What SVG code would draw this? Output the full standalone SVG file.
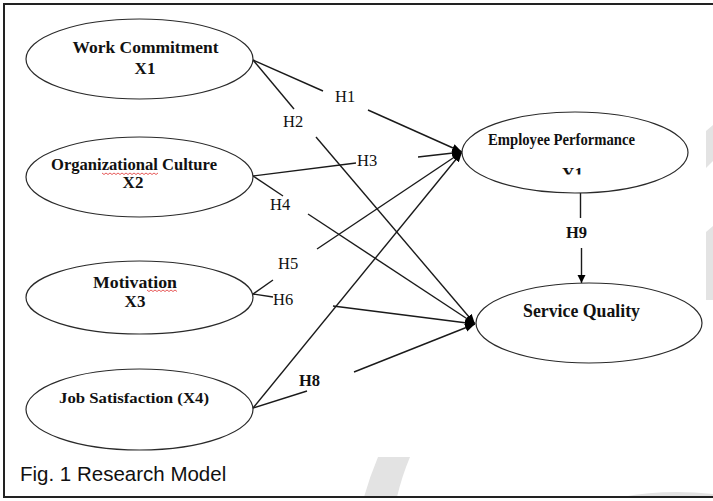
<svg xmlns="http://www.w3.org/2000/svg" width="713" height="501" viewBox="0 0 713 501">
<style>
.node ellipse{fill:#fff;stroke:#2a2a2a;stroke-width:1.2}
.t{font-family:"Liberation Serif","Times New Roman",serif;font-weight:bold;fill:#111;text-anchor:middle}
.h{font-family:"Liberation Serif","Times New Roman",serif;font-size:16.5px;fill:#111}
.hb{font-family:"Liberation Serif","Times New Roman",serif;font-size:16.5px;font-weight:bold;fill:#111}
#connectors line{stroke:#1a1a1a;stroke-width:1.4;fill:none}
.wm{fill:#e3e3e3}
.sq{fill:none;stroke:#e03030;stroke-width:0.8}
</style>
<defs>
<marker id="ah" markerUnits="userSpaceOnUse" markerWidth="11" markerHeight="9" refX="10" refY="4.5" orient="auto">
<path d="M0,0.5 L10,4.5 L0,8.5 z" fill="#000"/>
</marker>
<marker id="ah2" markerUnits="userSpaceOnUse" markerWidth="9" markerHeight="9" refX="8" refY="4" orient="auto">
<path d="M0,0 L8,4 L0,8 z" fill="#000"/>
</marker>
<clipPath id="yclip"><rect x="540" y="160" width="70" height="14.5"/></clipPath>
</defs>
<rect x="0" y="0" width="713" height="501" fill="#fff"/>
<g id="watermark">
<path class="wm" d="M706,131 L713,125 L713,161 L706,168 z"/>
<path class="wm" d="M706,232 L713,226 L713,300 L706,300 z"/>
<path class="wm" d="M378,457 L410,457 Q402,476 397,497 L364,497 Q370,476 378,457 z"/>
<path class="wm" d="M622,497 Q665,489 713,494 L713,497 z"/>
</g>
<path d="M713,4 L4,4 L4,497 L713,497" fill="none" stroke="#222" stroke-width="2"/>
<g id="connectors">
<line x1="253" y1="60" x2="323" y2="91"/>
<line x1="368" y1="110" x2="462" y2="152" marker-end="url(#ah)"/>
<line x1="253" y1="60" x2="294" y2="109"/>
<line x1="316" y1="137" x2="475" y2="324" marker-end="url(#ah)"/>
<line x1="253" y1="176" x2="356" y2="163"/>
<line x1="418" y1="157" x2="462" y2="152" marker-end="url(#ah)"/>
<line x1="253" y1="176" x2="283" y2="196"/>
<line x1="308" y1="214" x2="475" y2="324" marker-end="url(#ah)"/>
<line x1="253" y1="294" x2="273" y2="280"/>
<line x1="317" y1="249" x2="462" y2="152" marker-end="url(#ah)"/>
<line x1="253" y1="294" x2="273" y2="297"/>
<line x1="333" y1="306" x2="475" y2="324" marker-end="url(#ah)"/>
<line x1="253" y1="408" x2="462" y2="152" marker-end="url(#ah)"/>
<line x1="253" y1="408" x2="307" y2="391"/>
<line x1="354" y1="372" x2="475" y2="324" marker-end="url(#ah)"/>
<line x1="580.5" y1="193" x2="580.5" y2="218"/>
<line x1="581.5" y1="248" x2="581.5" y2="283" marker-end="url(#ah2)"/>
</g>
<g id="labels">
<text class="h" x="335" y="102">H1</text>
<text class="h" x="283" y="127">H2</text>
<text class="h" x="357" y="166">H3</text>
<text class="h" x="270" y="210">H4</text>
<text class="h" x="278" y="269">H5</text>
<text class="h" x="273" y="305">H6</text>
<text class="hb" x="299" y="386">H8</text>
<text class="hb" x="566" y="238">H9</text>
</g>
<g id="n-work" class="node">
<ellipse cx="139.5" cy="59" rx="113.5" ry="40"/>
<text class="t" x="145.5" y="53" font-size="17" textLength="146" lengthAdjust="spacingAndGlyphs">Work Commitment</text>
<text class="t" x="145" y="74" font-size="17">X1</text>
</g>
<g id="n-org" class="node">
<ellipse cx="139.5" cy="177" rx="113.5" ry="40"/>
<text class="t" x="134" y="170" font-size="16.5" textLength="166" lengthAdjust="spacingAndGlyphs">Organizational Culture</text>
<path class="sq" d="M102,173 l2,1.5 l2,-1.5 l2,1.5 l2,-1.5 l2,1.5 l2,-1.5 l2,1.5 l2,-1.5 l2,1.5 l2,-1.5 l2,1.5 l2,-1.5 l2,1.5 l2,-1.5 l2,1.5 l2,-1.5 l2,1.5 l2,-1.5 l2,1.5 l2,-1.5 l2,1.5 l2,-1.5 l2,1.5 l2,-1.5 l2,1.5 l2,-1.5 l2,1.5 l2,-1.5"/>
<text class="t" x="133" y="188" font-size="17">X2</text>
</g>
<g id="n-mot" class="node">
<ellipse cx="139.5" cy="297.5" rx="113.5" ry="36.5"/>
<text class="t" x="135" y="288" font-size="17" textLength="84" lengthAdjust="spacingAndGlyphs">Motivation</text>
<path class="sq" d="M147,290 l2,1.5 l2,-1.5 l2,1.5 l2,-1.5 l2,1.5 l2,-1.5 l2,1.5 l2,-1.5 l2,1.5 l2,-1.5 l2,1.5 l2,-1.5 l2,1.5 l2,-1.5 l2,1.5"/>
<text class="t" x="135" y="307" font-size="17">X3</text>
</g>
<g id="n-job" class="node">
<ellipse cx="139.5" cy="409.5" rx="113.5" ry="40.5"/>
<text class="t" x="134" y="403" font-size="15" textLength="150" lengthAdjust="spacingAndGlyphs">Job Satisfaction (X4)</text>
</g>
<g id="n-emp" class="node">
<ellipse cx="575" cy="152.5" rx="113" ry="40.5"/>
<text class="t" x="561.5" y="145" font-size="16" textLength="147" lengthAdjust="spacingAndGlyphs">Employee Performance</text>
<text class="t" x="572.5" y="179" font-size="17" clip-path="url(#yclip)">Y1</text>
</g>
<g id="n-svc" class="node">
<ellipse cx="589" cy="323" rx="113" ry="40"/>
<text class="t" x="581.5" y="317" font-size="18" textLength="117" lengthAdjust="spacingAndGlyphs">Service Quality</text>
</g>
<text x="20" y="481" font-family="'Liberation Sans',Arial,sans-serif" font-size="20.5" fill="#111">Fig. 1 Research Model</text>
</svg>
